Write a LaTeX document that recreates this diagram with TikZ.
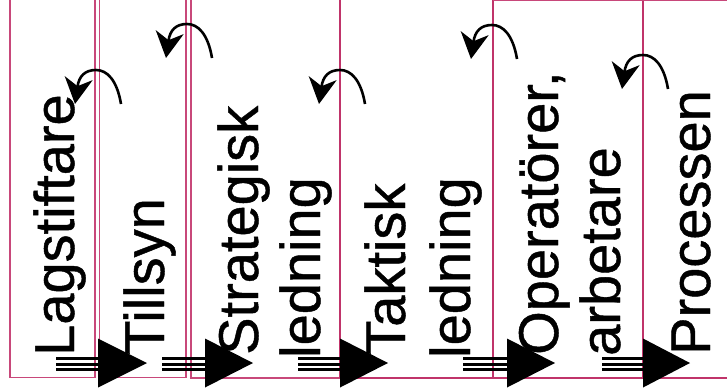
\documentclass[tikz,border=0pt]{standalone}
\usepackage{fontspec}
\setmainfont{Liberation Sans}
\newfontfamily\lblfont{Liberation Sans}[FakeBold=0.8]
\usetikzlibrary{arrows.meta}
\definecolor{boxpink}{RGB}{192,52,106}
\definecolor{lightpink}{RGB}{200,72,122}
\begin{document}
\begin{tikzpicture}[x=1pt,y=-1pt,
  lbl/.style={rotate=90, anchor=base west, inner sep=0pt, font=\lblfont\fontsize{56}{60}\selectfont},
  border/.style={draw=boxpink, line width=2pt},
  thinborder/.style={draw=lightpink, line width=1.4pt},
  turn/.style={line width=2.6pt, -{Stealth[length=26pt,width=28pt,inset=8pt]}},
  bar/.style={line width=3pt}]
\useasboundingbox (0,0) rectangle (727,391);
% columns
\draw[thinborder] (10,-2) -- (10,377.5) -- (95,377.5) -- (95,-2);
\draw[thinborder] (99.5,-2) -- (99.5,377.5) -- (186,377.5) -- (186,-2);
\draw[thinborder] (191,-2) -- (191,378) -- (340,378);
\draw[border] (340,-2) -- (340,378);
\draw[border] (340,378) -- (729,378);
\draw[border] (493,-2) -- (493,378);
\draw[border] (643,-2) -- (643,378);
\draw[thinborder] (493,0.7) -- (729,0.7);
% labels
\node[lbl] (t1) at (74,356) {Lagstiftare};
\node[lbl] (t2) at (164,355) {Tillsyn};
\node[lbl] (t3) at (258,355) {Strategisk};
\node[lbl] (t4) at (320,358) {ledning};
\node[lbl] (t5) at (405,355) {Taktisk};
\node[lbl] (t6) at (470,358) {ledning};
\node[lbl] (t7) at (558,355) {Operatörer,};
\node[lbl] (t8) at (620,356) {arbetare};
\node[lbl] (t9) at (710,355) {Processen};
% curved arrows at the top
\foreach \tx/\ty [count=\i] in {96/70,187/24,340/70,492/25,643/55} {
  \coordinate (c\i s) at (\tx+25,\ty+34);
  \coordinate (c\i t) at (\tx,\ty);
  \coordinate (c\i e) at (\tx-21,\ty+34);
  \draw[turn] (c\i s) .. controls (\tx+21,\ty+10) and (\tx+11,\ty) .. (c\i t)
    .. controls (\tx-11,\ty) and (\tx-17,\ty+6) .. (c\i e);
}
% triple arrows at the bottom
\foreach \a/\b/\c [count=\i] in {56/98/147,162/205/253,298/340/388,463/507/555,602/643/690} {
  \coordinate (b\i s) at (\a,364);
  \coordinate (b\i h) at (\b+4,364);
  \coordinate (b\i t) at (\c,363);
  \draw[bar] ([yshift=-5.5pt]b\i s) -- ([yshift=-5.5pt]b\i h);
  \draw[bar] (b\i s) -- (b\i h);
  \draw[bar] ([yshift=5.5pt]b\i s) -- ([yshift=5.5pt]b\i h);
  \fill (\b,338.5) -- (b\i t) -- (\b,387.5) -- cycle;
}
\end{tikzpicture}
\end{document}
